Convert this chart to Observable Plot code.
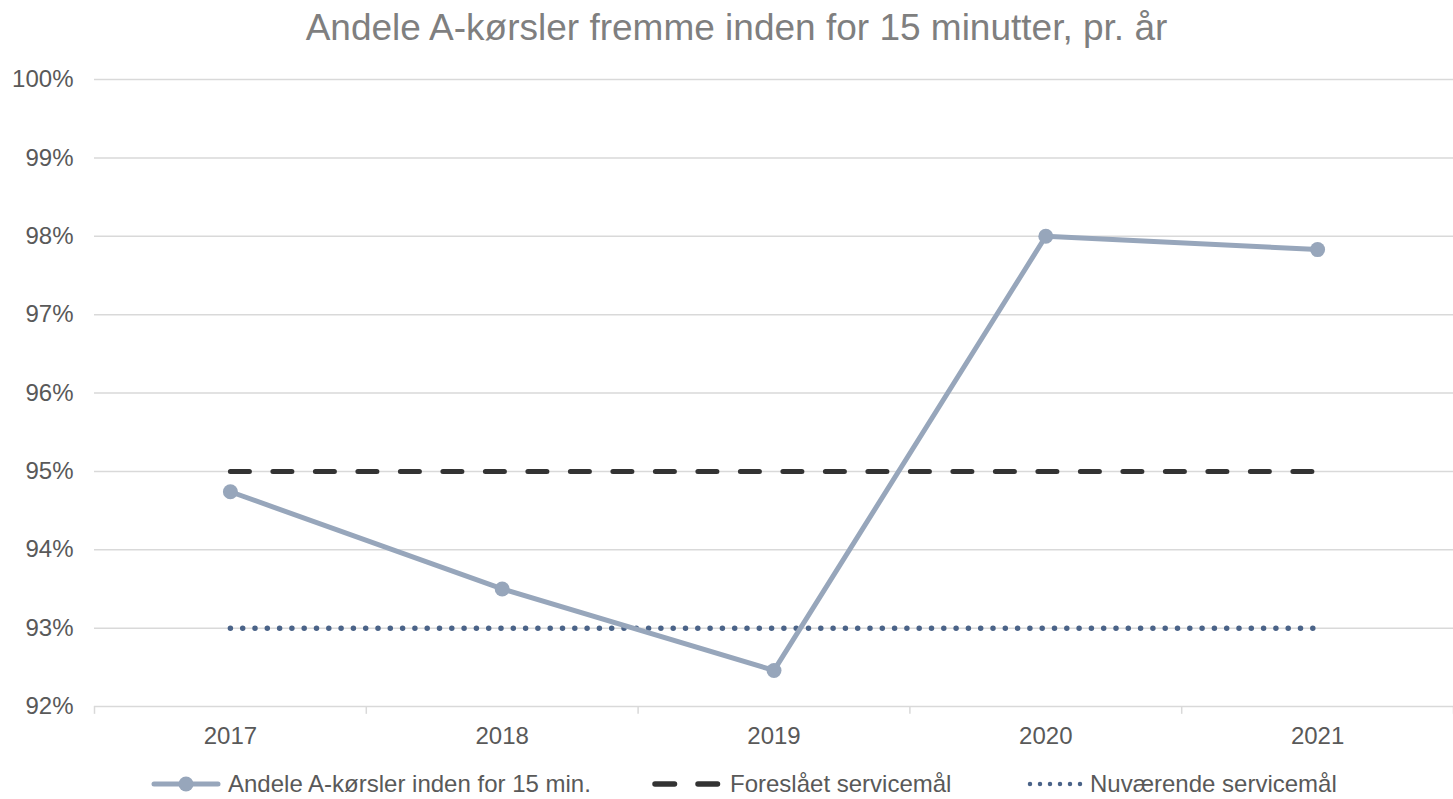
<!DOCTYPE html>
<html><head><meta charset="utf-8">
<script src="https://cdn.jsdelivr.net/npm/d3@7"></script>
<script src="https://cdn.jsdelivr.net/npm/@observablehq/plot@0.6"></script>
<style>
body{margin:0;background:#fff;font-family:"Liberation Sans",Arial,sans-serif;}
#title{height:56px;line-height:56px;text-align:center;font-size:37px;color:#7f7f7f;padding-left:20px;}
#legend{height:39px;position:relative;font-size:24px;color:#595959;}
.item{position:absolute;top:10px;display:flex;align-items:center;}
.item svg{margin-right:6px}
</style></head>
<body>
<div id="title">Andele A-kørsler fremme inden for 15 minutter, pr. år</div>
<div id="chart"></div>
<div id="legend"></div>
<script>
const years = [2017, 2018, 2019, 2020, 2021];
const andel = [94.74, 93.5, 92.46, 98.0, 97.83];
const foreslaaet = [95, 95, 95, 95, 95];
const nuvaerende = [93, 93, 93, 93, 93];
const yTicks = [92, 93, 94, 95, 96, 97, 98, 99, 100];
const seriesNames = ["Andele A-kørsler inden for 15 min.", "Foreslået servicemål", "Nuværende servicemål"];

const rows = years.map((y, i) => ({year: y, andel: andel[i], fore: foreslaaet[i], nuv: nuvaerende[i]}));
const bounds = [years[0] - 0.5, ...years.map(y => y + 0.5)];

const lineColor = "#97a6bb", dashColor = "#333333", dotColor = "#4a6388";

const chart = Plot.plot({
  width: 1453, height: 704,
  marginLeft: 94, marginRight: 0, marginTop: 23, marginBottom: 54,
  style: {fontFamily: "Liberation Sans, Arial, sans-serif", fontSize: "24px", color: "#595959", background: "#fff"},
  x: {type: "linear", domain: [years[0] - 0.5, years[years.length - 1] + 0.5]},
  y: {domain: [92, 100]},
  marks: [
    Plot.ruleY(yTicks, {stroke: "#d9d9d9", strokeWidth: 1.5}),
    Plot.ruleX(bounds, {y1: 92, y2: 91.9, stroke: "#d9d9d9", strokeWidth: 1.5}),
    Plot.axisY(yTicks, {tickSize: 0, tickPadding: 21, tickFormat: d => d + "%", label: null, fontSize: 24, fill: "#595959"}),
    Plot.axisX(years, {tickSize: 0, tickPadding: 20, tickFormat: d => String(d), label: null, fontSize: 24, fill: "#595959"}),
    Plot.line(rows, {x: "year", y: "fore", stroke: dashColor, strokeWidth: 5, strokeDasharray: "19 23.5", strokeLinecap: "round"}),
    Plot.line(rows, {x: "year", y: "nuv", stroke: dotColor, strokeWidth: 5.5, strokeDasharray: "0 12.3", strokeLinecap: "round"}),
    Plot.line(rows, {x: "year", y: "andel", stroke: lineColor, strokeWidth: 5}),
    Plot.dot(rows, {x: "year", y: "andel", r: 7.5, fill: lineColor})
  ]
});
document.getElementById("chart").append(chart);

const legend = document.getElementById("legend");
const items = [
  {left: 150, sw: `<svg width="72" height="20"><line x1="4" y1="10" x2="68" y2="10" stroke="${lineColor}" stroke-width="5" stroke-linecap="round"/><circle cx="36" cy="10" r="7.5" fill="${lineColor}"/></svg>`},
  {left: 648, sw: `<svg width="76" height="20"><line x1="7" y1="10" x2="70" y2="10" stroke="${dashColor}" stroke-width="5.5" stroke-dasharray="19.5 23.5" stroke-linecap="round"/></svg>`},
  {left: 1026, sw: `<svg width="58" height="20"><line x1="4" y1="10" x2="55" y2="10" stroke="${dotColor}" stroke-width="4.5" stroke-dasharray="0 10" stroke-linecap="round"/></svg>`}
];
items.forEach((it, i) => {
  const d = document.createElement("div");
  d.className = "item";
  d.style.left = it.left + "px";
  d.innerHTML = it.sw + "<span>" + seriesNames[i] + "</span>";
  legend.append(d);
});
</script>
</body></html>
